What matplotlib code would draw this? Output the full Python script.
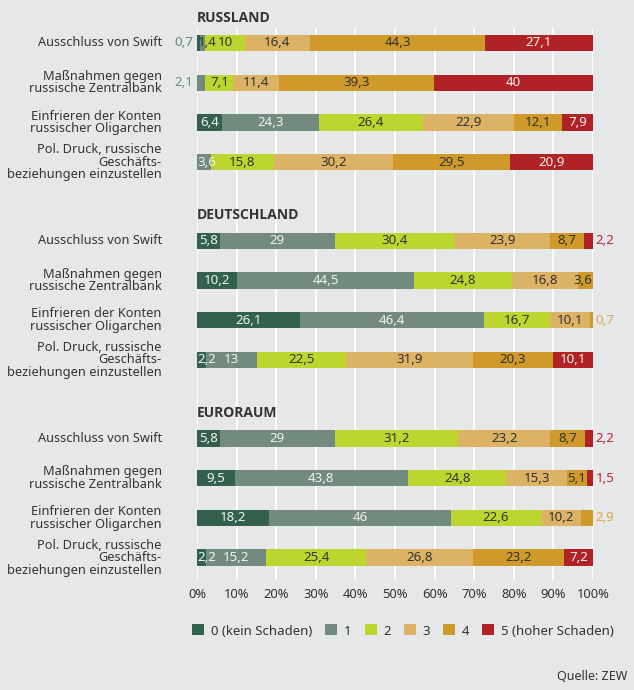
import matplotlib
matplotlib.use("Agg")
import matplotlib.pyplot as plt
from matplotlib.patches import Patch
import numpy as np

plt.rcParams['font.family'] = ['Noto Sans', 'DejaVu Sans']

groups = ["RUSSLAND", "DEUTSCHLAND", "EURORAUM"]
measures = [
    "Ausschluss von Swift",
    "Maßnahmen gegen\nrussische Zentralbank",
    "Einfrieren der Konten\nrussischer Oligarchen",
    "Pol. Druck, russische\nGeschäfts-\nbeziehungen einzustellen",
]
series_names = ["0 (kein Schaden)", "1", "2", "3", "4", "5 (hoher Schaden)"]

# values per group: rows = measures, cols = series 0..5 (percent)
russland = [
    [0.7, 1.4, 10.0, 16.4, 44.3, 27.1],
    [0.0, 2.1, 7.1, 11.4, 39.3, 40.0],
    [6.4, 24.3, 26.4, 22.9, 12.1, 7.9],
    [0.0, 3.6, 15.8, 30.2, 29.5, 20.9],
]
deutschland = [
    [5.8, 29.0, 30.4, 23.9, 8.7, 2.2],
    [10.2, 44.5, 24.8, 16.8, 3.6, 0.0],
    [26.1, 46.4, 16.7, 10.1, 0.7, 0.0],
    [2.2, 13.0, 22.5, 31.9, 20.3, 10.1],
]
euroraum = [
    [5.8, 29.0, 31.2, 23.2, 8.7, 2.2],
    [9.5, 43.8, 24.8, 15.3, 5.1, 1.5],
    [18.2, 46.0, 22.6, 10.2, 2.9, 0.0],
    [2.2, 15.2, 25.4, 26.8, 23.2, 7.2],
]
data = [russland, deutschland, euroraum]

colors = ["#33614e", "#728b7e", "#bdd62f", "#dcb264", "#cf9a2a", "#b12227"]
outside_colors = ["#5f8a78", "#6a8d7e", "#bdd62f", "#dcb264", "#dcaa4a", "#c0272d"]
text_on = ["#f2f2f2", "#f2f2f2", "#333333", "#333333", "#333333", "#f2f2f2"]
# labels drawn outside the bar: (group, row, series) -> side
outside = {(0, 0, 0): "left", (0, 1, 1): "left",
           (1, 0, 5): "right", (1, 2, 4): "right",
           (2, 0, 5): "right", (2, 1, 5): "right", (2, 2, 4): "right"}

bg = "#e6e7e9"
W, H = 634, 690
fig = plt.figure(figsize=(W / 100, H / 100), dpi=100, facecolor=bg)

x0, x1 = 197, 593
row0_px, row_step = 43, 39.7
top_px, bot_px = 28, 580
kt = (top_px - row0_px) / row_step
kb = (bot_px - row0_px) / row_step
ax = fig.add_axes([x0 / W, 1 - bot_px / H, (x1 - x0) / W, (bot_px - top_px) / H])
ax.set_facecolor(bg)
ax.set_xlim(0, 100)
ax.set_ylim(kb, kt)
for s in ax.spines.values():
    s.set_visible(False)
ax.set_xticks(np.arange(0, 101, 10))
ax.set_xticklabels([f"{v}%" for v in range(0, 101, 10)], fontsize=9.3, color="#333333")
ax.tick_params(axis="x", length=0, pad=6)
ax.set_yticks([])
ax.grid(axis="x", color="white", linewidth=1.3, zorder=0)
ax.set_axisbelow(True)

fs = 9.2
vfs = 9.6
bar_h = 0.41
for g, gname in enumerate(groups):
    base = g * 4.98
    ax.text(0, base - 0.64, gname, fontsize=10, fontweight="bold", color="#333333",
            family=["Open Sans", "DejaVu Sans"], ha="left", va="center", clip_on=False)
    for r, row in enumerate(data[g]):
        y = base + r
        left = 0.0
        for s, v in enumerate(row):
            if v > 0:
                ax.barh(y, v, left=left, height=bar_h, color=colors[s], zorder=2, linewidth=0)
                lab = f"{v:g}".replace(".", ",")
                side = outside.get((g, r, s))
                if side == "left":
                    ax.text(-0.9, y, lab, ha="right", va="center", fontsize=vfs,
                            color=outside_colors[s], clip_on=False)
                elif side == "right":
                    ax.text(100.6, y, lab, ha="left", va="center", fontsize=vfs,
                            color=outside_colors[s], clip_on=False)
                else:
                    tc = text_on[s] if v >= 2 else "#333333"
                    if v < 4 and left < 1:
                        ax.text(0.1, y, lab, ha="left", va="center", fontsize=vfs,
                                color=tc, zorder=3)
                    elif v < 4:
                        ax.text(left + v - 0.1, y, lab, ha="right", va="center",
                                fontsize=vfs, color=tc, zorder=3)
                    else:
                        ax.text(left + v / 2, y, lab, ha="center", va="center",
                                fontsize=vfs, color=tc, zorder=3)
            left += v
        ax.text(-8.9, y, measures[r], ha="right", va="center", fontsize=fs,
                color="#333333", linespacing=0.95, clip_on=False)

handles = [Patch(facecolor=c, edgecolor="none") for c in colors]
fig.legend(handles, series_names, loc="center", bbox_to_anchor=(403 / W, 1 - 631 / H),
           ncol=6, frameon=False, fontsize=9.5, handlelength=0.9, handleheight=0.9,
           handletextpad=0.5, columnspacing=1.0, labelcolor="#333333")

fig.text(627 / W, 1 - 676 / H, "Quelle: ZEW", ha="right", va="center", fontsize=9,
         color="#333333")

fig.savefig("out.png", dpi=100, facecolor=bg)
